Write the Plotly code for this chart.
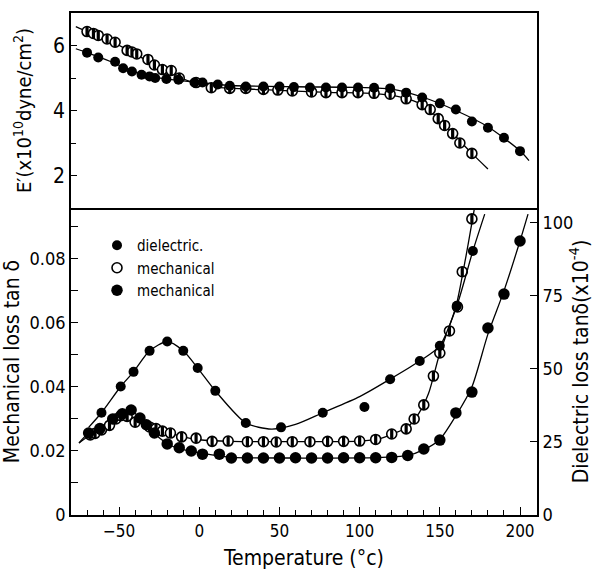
import plotly.graph_objects as go

# ---------------- Storage modulus E' (x10^10 dyne/cm^2) ----------------
e_half_t = [-70, -66, -63, -57.5, -52.5, -45, -42, -39, -32, -28, -23, -17.5, -12.5, -2,
            7.5, 19, 29, 40, 49, 58, 70, 79, 89, 99, 109, 119, 129, 139, 144, 149, 153,
            158, 162.5, 170]
e_half_v = [6.43, 6.37, 6.31, 6.20, 6.10, 5.85, 5.80, 5.74, 5.57, 5.40, 5.26, 5.23, 5.00, 4.86,
            4.70, 4.68, 4.68, 4.65, 4.63, 4.60, 4.57, 4.55, 4.55, 4.55, 4.53, 4.50, 4.36, 4.18,
            4.03, 3.75, 3.54, 3.29, 3.00, 2.68]
e_half_fit_t = [-77, -70, -57.5, -45, -32, -20, -5, 10, 40, 80, 110, 125, 139, 149, 158, 170, 180]
e_half_fit_v = [6.58, 6.43, 6.20, 5.87, 5.52, 5.20, 4.88, 4.72, 4.64, 4.56, 4.52, 4.42, 4.18, 3.76, 3.30, 2.68, 2.20]

e_full_t = [-70, -63, -52.5, -47.5, -42, -36, -31, -27.5, -20.5, -13, -3, 2, 11.5, 19, 29,
            40, 50, 59, 69, 79, 89, 99, 109, 119, 129, 139, 150, 160, 170, 180, 190, 200]
e_full_v = [5.78, 5.63, 5.50, 5.30, 5.20, 5.10, 5.05, 5.00, 4.97, 4.95, 4.86, 4.86, 4.80, 4.76, 4.74,
            4.74, 4.74, 4.72, 4.71, 4.71, 4.71, 4.71, 4.70, 4.68, 4.55, 4.40, 4.22, 4.03, 3.66,
            3.47, 3.16, 2.75]
e_full_fit_t = [-77, -70, -55, -42, -30, -15, 0, 20, 60, 100, 120, 140, 160, 180, 200, 205.6]
e_full_fit_v = [5.90, 5.78, 5.50, 5.22, 5.04, 4.94, 4.86, 4.77, 4.73, 4.71, 4.66, 4.40, 4.00, 3.50, 2.76, 2.46]

# ---------------- Dielectric loss tan d (x10^-4) ----------------
diel_t = [-61, -49, -41, -31, -20, -10, -1, 10, 29, 51, 77, 103, 119, 137.5, 150, 160.6, 170.6]
diel_v = [35.0, 44.0, 49.0, 56.2, 59.4, 56.2, 50.3, 42.5, 31.5, 30.0, 35.0, 37.0, 46.5, 52.7, 57.9, 71.6, 90.4]
diel_fit_t = [-69, -61, -49, -41, -31, -20, -10, -1, 10, 29, 45, 60, 77, 100, 119, 137.5, 150, 160.6, 170.6, 178]
diel_fit_v = [30.0, 35.0, 44.0, 49.0, 56.2, 59.4, 56.2, 50.3, 42.5, 31.5, 29.4, 31.0, 35.0, 40.5, 46.5, 52.7, 57.9, 71.6, 90.4, 103.0]

# ---------------- Mechanical loss tan d ----------------
mech_half_t = [-68, -65, -61, -56, -52, -49, -45, -40, -31, -27, -23, -18, -11, -2, 8, 18, 30,
               40, 48, 58, 69, 80, 90, 100, 110, 120, 129, 134, 140, 146, 150, 156, 161, 164, 170]
mech_half_v = [0.0250, 0.0255, 0.0266, 0.0280, 0.0300, 0.0310, 0.0308, 0.0290, 0.0275, 0.0270,
               0.0262, 0.0256, 0.0244, 0.0240, 0.0230, 0.0231, 0.0229, 0.0229, 0.0228, 0.0229,
               0.0229, 0.0230, 0.0230, 0.0231, 0.0236, 0.0253, 0.0269, 0.0300, 0.0344, 0.0434,
               0.0506, 0.0575, 0.0650, 0.0760, 0.0925]
mech_half_fit_t = [-75, -68, -61, -54, -48, -40, -31, -20, -10, 0, 20, 60, 100, 112, 122, 130,
                   137, 143, 150, 160, 166, 172]
mech_half_fit_v = [0.0225, 0.0250, 0.0266, 0.0290, 0.0309, 0.0292, 0.0275, 0.0259, 0.0244, 0.0235,
                   0.0230, 0.0229, 0.0231, 0.0238, 0.0256, 0.0275, 0.0318, 0.0380, 0.0506, 0.0650,
                   0.0800, 0.0970]

mech_full_t = [-69, -62, -54, -48, -42.5, -37, -33, -28, -20, -12.5, -5, 2, 12.5, 20, 30, 40, 50,
               60, 70, 80, 90, 100, 110, 120, 130, 140, 150, 160, 170, 180, 190, 200]
mech_full_v = [0.0256, 0.0270, 0.0300, 0.0316, 0.0328, 0.0303, 0.0282, 0.0256, 0.0222, 0.0210,
               0.0200, 0.0190, 0.0190, 0.0178, 0.0178, 0.0178, 0.0178, 0.0179, 0.0178, 0.0178,
               0.0179, 0.0179, 0.0179, 0.0180, 0.0186, 0.0206, 0.0234, 0.0319, 0.0384, 0.0584,
               0.0690, 0.0856]
mech_full_fit_t = [-75, -69, -62, -54, -48, -43, -36, -27, -18, -8, 5, 20, 60, 110, 130, 140,
                   150, 160, 170, 180, 190, 200, 205]
mech_full_fit_v = [0.0225, 0.0256, 0.0272, 0.0300, 0.0318, 0.0326, 0.0300, 0.0250, 0.0218, 0.0202,
                   0.0190, 0.0180, 0.0178, 0.0179, 0.0186, 0.0204, 0.0236, 0.0310, 0.0400, 0.0565,
                   0.0700, 0.0856, 0.0940]

# tick values
x_ticks = [-50, 0, 50, 100, 150, 200]
mech_ticks = [0, 0.02, 0.04, 0.06, 0.08]
diel_ticks = [0, 25, 50, 75, 100]
e_ticks = [2, 4, 6]

FONT = "DejaVu Sans Condensed, Liberation Sans Narrow, DejaVu Sans, sans-serif"
BLACK = "black"

fig = go.Figure()


def add_curve(t, v, xa, ya):
    fig.add_trace(go.Scatter(
        x=t, y=v, mode="lines", xaxis=xa, yaxis=ya, showlegend=False, hoverinfo="skip",
        line=dict(color=BLACK, width=1.3, shape="spline", smoothing=0.7)))


def add_filled(t, v, xa, ya, size, name=None, legend=False):
    fig.add_trace(go.Scatter(
        x=t, y=v, mode="markers", xaxis=xa, yaxis=ya, name=name, showlegend=legend,
        marker=dict(symbol="circle", size=size, color=BLACK, line=dict(width=0))))


def add_half(t, v, xa, ya, size, name=None, legend=False):
    # white disc with outline plus a dark vertical band -> half-shaded point
    fig.add_trace(go.Scatter(
        x=t, y=v, mode="markers", xaxis=xa, yaxis=ya, name=name, showlegend=legend,
        marker=dict(symbol="circle", size=size, color="white", line=dict(width=1.6, color=BLACK))))
    fig.add_trace(go.Scatter(
        x=t, y=v, mode="markers", xaxis=xa, yaxis=ya, showlegend=False, hoverinfo="skip",
        marker=dict(symbol="line-ns", size=size - 3, line=dict(width=3.2, color=BLACK))))


# lower panel curves
add_curve(diel_fit_t, diel_fit_v, "x", "y2")
add_curve(mech_half_fit_t, mech_half_fit_v, "x", "y")
add_curve(mech_full_fit_t, mech_full_fit_v, "x", "y")
# upper panel curves
add_curve(e_half_fit_t, e_half_fit_v, "x2", "y3")
add_curve(e_full_fit_t, e_full_fit_v, "x2", "y3")

# lower panel points (these also build the legend)
add_filled(diel_t, diel_v, "x", "y2", 10, "dielectric.", True)
add_half(mech_half_t, mech_half_v, "x", "y", 10, "mechanical", True)
add_filled(mech_full_t, mech_full_v, "x", "y", 11.5, "mechanical", True)
# upper panel points
add_half(e_half_t, e_half_v, "x2", "y3", 10)
add_filled(e_full_t, e_full_v, "x2", "y3", 10)

split = 307 / 502
xr = [-80, 210.6]
axis_common = dict(showline=True, linecolor=BLACK, linewidth=1.6, showgrid=False, zeroline=False,
                   tickcolor=BLACK, tickwidth=1.4)

fig.update_layout(
    width=593, height=572,
    margin=dict(l=71, r=56, t=13, b=57, autoexpand=False),
    paper_bgcolor="white", plot_bgcolor="white",
    font=dict(family=FONT, color=BLACK, size=17),
    showlegend=True,
    legend=dict(x=(97 - 71) / 466, y=(515 - 229) / 502, xanchor="left", yanchor="top",
                bgcolor="rgba(0,0,0,0)", font=dict(size=15, family=FONT), itemsizing="trace",
                traceorder="normal", tracegroupgap=0),
    xaxis=dict(**axis_common, ticks="inside", domain=[0, 1], anchor="y", range=xr, tickvals=x_ticks,
               ticklen=8, mirror=False, tickfont=dict(size=17),
               minor=dict(dtick=10, tick0=0, ticks="inside", ticklen=5, tickcolor=BLACK, tickwidth=1.2),
               title=dict(text="Temperature (°c)", font=dict(size=21), standoff=10)),
    yaxis=dict(**axis_common, ticks="inside", domain=[0, split], anchor="x", range=[0, 0.0959],
               tickvals=mech_ticks, ticklen=7, tickfont=dict(size=18),
               minor=dict(dtick=0.01, tick0=0, ticks="inside", ticklen=7, tickcolor=BLACK, tickwidth=1.2),
               title=dict(text="Mechanical loss tan δ", font=dict(size=21), standoff=6)),
    yaxis2=dict(**axis_common, ticks="inside", overlaying="y", side="right", anchor="x",
                range=[0, 105.1], tickvals=diel_ticks, ticklen=7, tickfont=dict(size=18),
                title=dict(text="Dielectric loss tanδ(x10<sup>-4</sup>)", font=dict(size=21), standoff=4)),
    xaxis2=dict(**axis_common, ticks="", domain=[0, 1], anchor="y3", matches="x", range=xr,
                mirror=True, showticklabels=False),
    yaxis3=dict(**axis_common, ticks="inside", domain=[split, 1], anchor="x2", range=[1.0, 7.0],
                tickvals=e_ticks, ticklen=6, mirror=True, tickfont=dict(size=21),
                minor=dict(dtick=1, tick0=0, ticks="inside", ticklen=5, tickcolor=BLACK, tickwidth=1.2),
                title=dict(text="E′(x10<sup>10</sup>dyne/cm<sup>2</sup>)", font=dict(size=20), standoff=16)),
)

fig.write_html("out.html")
